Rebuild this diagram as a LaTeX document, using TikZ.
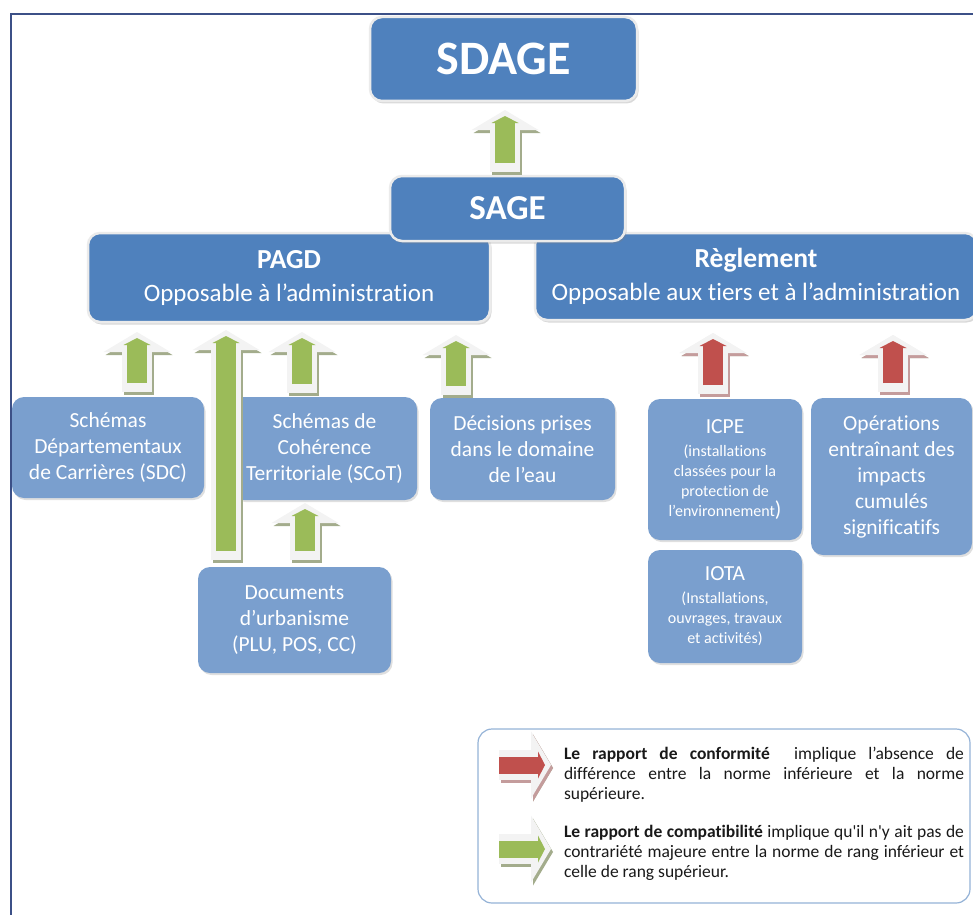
\documentclass[tikz,border=0pt]{standalone}
\usepackage{fontspec}
\setmainfont{Carlito}[Ligatures={TeX,NoCommon}, RawFeature={-liga}]
\usetikzlibrary{arrows.meta,shadows}

\definecolor{boxdark}{RGB}{79,129,189}
\definecolor{boxlight}{RGB}{122,159,206}
\definecolor{agreen}{RGB}{155,187,89}
\definecolor{ared}{RGB}{192,80,77}
\definecolor{gshade}{RGB}{163,172,140}
\definecolor{rshade}{RGB}{196,156,156}
\definecolor{shell}{RGB}{243,243,243}
\definecolor{framec}{RGB}{60,80,135}
\definecolor{legline}{RGB}{149,179,215}

\begin{document}
\begin{tikzpicture}[x=1pt,y=-1pt,
    dark/.style={rounded corners=12pt, fill=boxdark, draw=black!8, line width=2.5pt,
        text=white, inner sep=0pt, align=center,
        drop shadow={shadow xshift=1.5pt, shadow yshift=-2.5pt, opacity=.3}},
    light/.style={rounded corners=12pt, fill=boxlight, text=white, inner sep=0pt,
        align=center, font=\fontsize{21.5}{26}\selectfont,
        drop shadow={shadow xshift=1.5pt, shadow yshift=-2pt, opacity=.25}},
    small/.style={font=\fontsize{16}{20}\selectfont},
    garrow/.style={
        preaction={draw=gshade, line width=30pt, shorten <=0pt, shorten >=0pt,
            -{Triangle[length=20pt,width=67pt,line width=0pt]},
            transform canvas={shift={(2,3)}}},
        preaction={draw=shell, line width=30pt, shorten <=0pt, shorten >=0pt,
            -{Triangle[length=20pt,width=67pt,line width=0pt]}},
        draw=agreen, line width=20pt, shorten <=9pt, shorten >=6pt,
        -{Triangle[length=7pt,width=27pt,line width=0pt]}},
    rarrow/.style={garrow, draw=ared,
        preaction={draw=rshade, line width=30pt, shorten <=0pt, shorten >=0pt,
            -{Triangle[length=20pt,width=67pt,line width=0pt]},
            transform canvas={shift={(2,3)}}},
        preaction={draw=shell, line width=30pt, shorten <=0pt, shorten >=0pt,
            -{Triangle[length=20pt,width=67pt,line width=0pt]}}},
    legtext/.style={text width=400pt, align=justify, inner sep=0pt,
        font=\fontsize{17.5}{20}\selectfont, text=black!90}]

    \useasboundingbox (0,0) rectangle (973,915);
    \draw[framec, line width=2pt] (973,14) -- (11,14) -- (11,915);

    % top of the hierarchy
    \node[dark, minimum width=267pt, minimum height=84pt,
        font=\bfseries\fontsize{48}{52}\selectfont] (sdage) at (503.5,59) {SDAGE};
    \node[dark, minimum width=402pt, minimum height=89pt,
        font=\fontsize{25}{33}\selectfont] (pagd) at (289,277.5)
        {{\bfseries\fontsize{27.5}{33}\selectfont PAGD}\\Opposable à l’administration};
    \node[dark, minimum width=442pt, minimum height=87pt,
        font=\fontsize{25}{33}\selectfont] (regl) at (756,276.5)
        {{\bfseries\fontsize{27.5}{33}\selectfont Règlement}\\Opposable aux tiers et à l’administration};
    \node[dark, minimum width=235pt, minimum height=65pt,
        font=\bfseries\fontsize{35}{40}\selectfont] (sage) at (507.5,208.5) {SAGE};

    % lower documents
    \node[light, minimum width=192pt, minimum height=101pt] (sdc) at (108,447.5)
        {Schémas\\Départementaux\\de Carrières (SDC)};
    \node[light, minimum width=185pt, minimum height=103pt] (scot) at (324.5,448.5)
        {Schémas de\\Cohérence\\Territoriale (SCoT)};
    \node[light, minimum width=185pt, minimum height=102pt] (decis) at (522.5,449)
        {Décisions prises\\dans le domaine\\de l’eau};
    \node[light, minimum width=193pt, minimum height=106pt] (docs) at (294.5,620)
        {Documents\\d’urbanisme\\(PLU, POS, CC)};
    \node[light, small, minimum width=154pt, minimum height=141pt] (icpe) at (725,469.5)
        {{\fontsize{21.5}{24}\selectfont ICPE}\\[3pt](installations\\classées pour la\\protection de\\l’environnement{\fontsize{21.5}{20}\selectfont)}};
    \node[light, small, minimum width=154pt, minimum height=113pt] (iota) at (725,606.5)
        {{\fontsize{21.5}{24}\selectfont IOTA}\\[3pt](Installations,\\ouvrages, travaux\\et activités)};
    \node[light, minimum width=161pt, minimum height=157pt] (oper) at (891.5,476.5)
        {Opérations\\entraînant des\\impacts\\cumulés\\significatifs};

    % block arrows
    \coordinate (a0s) at (505,172); \coordinate (a0e) at (505,110);
    \coordinate (a1s) at (137,392); \coordinate (a1e) at (137,332);
    \coordinate (a2s) at (226,560); \coordinate (a2e) at (226,330);
    \coordinate (a3s) at (302,393); \coordinate (a3e) at (302,332);
    \coordinate (a4s) at (456,395); \coordinate (a4e) at (456,335);
    \coordinate (a5s) at (305,560); \coordinate (a5e) at (305,503);
    \coordinate (r1s) at (713,394); \coordinate (r1e) at (713,333);
    \coordinate (r2s) at (893,392); \coordinate (r2e) at (893,335);
    \draw[garrow] (a0s) -- (a0e);
    \draw[garrow] (a1s) -- (a1e);
    \draw[garrow] (a2s) -- (a2e);
    \draw[garrow] (a3s) -- (a3e);
    \draw[garrow] (a4s) -- (a4e);
    \draw[garrow] (a5s) -- (a5e);
    \draw[rarrow] (r1s) -- (r1e);
    \draw[rarrow] (r2s) -- (r2e);

    % legend
    \node[draw=legline, line width=1.2pt, fill=white, rounded corners=14pt,
        minimum width=492pt, minimum height=174pt] (legend) at (724,816) {};
    \coordinate (lrs) at (499,765); \coordinate (lre) at (551,765);
    \coordinate (lgs) at (499,849); \coordinate (lge) at (551,849);
    \draw[rarrow, line width=17pt, shorten <=0pt] (lrs) -- (lre);
    \draw[garrow, line width=17pt, shorten <=0pt] (lgs) -- (lge);
    \node[legtext] (conf) at (764,775)
        {\textbf{Le rapport de conformité} \ implique l’absence de\linebreak
        différence entre la norme inférieure et la norme\linebreak supérieure.};
    \node[legtext] (compat) at (764,853)
        {\textbf{Le rapport de compatibilité} implique qu\textquotesingle il n\textquotesingle y ait pas de\linebreak
        contrariété majeure entre la norme de rang inférieur et\linebreak
        celle de rang supérieur.};
\end{tikzpicture}
\end{document}
